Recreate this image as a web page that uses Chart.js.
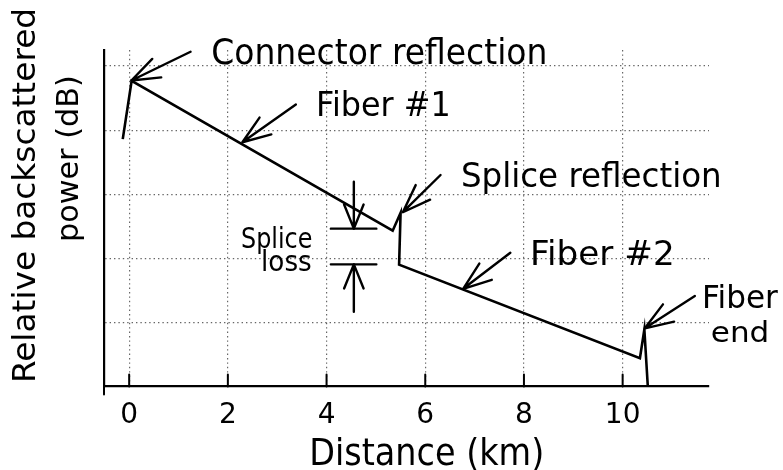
<!DOCTYPE html>
<html>
<head>
<meta charset="utf-8">
<script src="https://cdn.jsdelivr.net/npm/chart.js@4/dist/chart.umd.min.js"></script>
<style>
  html, body { margin: 0; padding: 0; background: #fff; }
  #wrap { width: 783px; height: 470px; }
</style>
</head>
<body>
<div id="wrap"><canvas id="otdr" width="783" height="470"></canvas></div>
<script>
// OTDR trace: distance along the link (km) and relative backscattered power (dB, arbitrary offset)
const distanceKm    = [-0.13, 0.05, 5.34, 5.50, 5.47, 10.35, 10.44, 10.51];
const backscatterDb = [ 3.86, 4.77, 2.43, 2.71, 1.90,  0.44,  0.89,  0.00];

// Axis ticks and grid levels
const distanceTicks   = [0, 2, 4, 6, 8, 10];
const powerGridLevels = [1, 2, 3, 4, 5];
const distanceRange   = [-0.51, 11.75];
const powerRange      = [0, 5.25];

// Callout arrows: tail -> head, in data units
const calloutArrows = [
  { from: [1.244, 5.223], to: [0.045, 4.774] },   // connector reflection
  { from: [3.378, 4.399], to: [2.294, 3.811] },   // fiber #1
  { from: [6.310, 3.300], to: [5.546, 2.719] },   // splice reflection
  { from: [7.724, 2.087], to: [6.768, 1.524] },   // fiber #2
  { from: [11.463, 1.412], to: [10.450, 0.908] }  // fiber end
];

// Splice-loss marker: two bars at the levels either side of the splice
const spliceLoss = { x: 4.553, barFrom: 4.087, barTo: 5.009, upper: 2.463, lower: 1.906, upperTail: 3.195, lowerTail: 1.167 };

// Callout texts: left edge / baseline in data units, cap height and ink width in px
const calloutTexts = [
  { text: 'Connector reflection', at: [1.700, 5.031], cap: 26, width: 332 },
  { text: 'Fiber #1',             at: [3.844, 4.220], cap: 24, width: 129 },
  { text: 'Splice reflection',    at: [6.762, 3.112], cap: 24, width: 257 },
  { text: 'Fiber #2',             at: [8.181, 1.895], cap: 25, width: 139 },
  { text: 'Fiber',                at: [11.666, 1.225], cap: 23, width: 73 },
  { text: 'end',                  at: [11.808, 0.694], cap: 21, width: 55 },
  { text: 'Splice',               at: [2.283, 2.161], cap: 21, width: 70 },
  { text: 'loss',                 at: [2.709, 1.802], cap: 21, width: 48 }
];

const FONT = '"DejaVu Sans", "Liberation Sans", sans-serif';
const INK = '#000';

function fittedText(ctx, text, x, baseline, cap, width, vertical) {
  const size = cap / 0.729;
  ctx.save();
  ctx.font = size + 'px ' + FONT;
  ctx.textAlign = 'left';
  ctx.textBaseline = 'alphabetic';
  const m = ctx.measureText(text);
  const ink = m.actualBoundingBoxLeft + m.actualBoundingBoxRight;
  const sx = width / ink;
  ctx.translate(x, baseline);
  if (vertical) ctx.rotate(-Math.PI / 2);
  ctx.scale(sx, 1);
  ctx.fillStyle = INK;
  ctx.fillText(text, m.actualBoundingBoxLeft, 0);
  ctx.restore();
}

function arrow(ctx, x1, y1, x2, y2, barb, spread) {
  const a = Math.atan2(y1 - y2, x1 - x2);
  ctx.beginPath();
  ctx.moveTo(x1, y1);
  ctx.lineTo(x2, y2);
  ctx.moveTo(x2 + barb * Math.cos(a - spread), y2 + barb * Math.sin(a - spread));
  ctx.lineTo(x2, y2);
  ctx.lineTo(x2 + barb * Math.cos(a + spread), y2 + barb * Math.sin(a + spread));
  ctx.stroke();
}

const calloutPlugin = {
  id: 'callouts',
  afterDatasetsDraw(chart) {
    const { ctx, chartArea } = chart;
    const xs = chart.scales.x, ys = chart.scales.y;
    const px = v => xs.getPixelForValue(v);
    const py = v => ys.getPixelForValue(v);

    ctx.save();
    ctx.strokeStyle = INK;
    ctx.lineCap = 'round';
    ctx.lineJoin = 'round';

    // inward tick marks on the distance axis
    ctx.lineWidth = 2;
    ctx.beginPath();
    distanceTicks.forEach(v => {
      ctx.moveTo(px(v), chartArea.bottom);
      ctx.lineTo(px(v), chartArea.bottom - 12);
    });
    // small overhang of the power axis below the corner
    ctx.moveTo(chartArea.left, chartArea.bottom);
    ctx.lineTo(chartArea.left, chartArea.bottom + 8);
    ctx.stroke();

    // callout arrows
    ctx.lineWidth = 2.4;
    calloutArrows.forEach(a => {
      arrow(ctx, px(a.from[0]), py(a.from[1]), px(a.to[0]), py(a.to[1]), 30, 20 * Math.PI / 180);
    });

    // splice loss bars and arrows
    const sx = px(spliceLoss.x);
    ctx.beginPath();
    ctx.moveTo(px(spliceLoss.barFrom), py(spliceLoss.upper));
    ctx.lineTo(px(spliceLoss.barTo), py(spliceLoss.upper));
    ctx.moveTo(px(spliceLoss.barFrom), py(spliceLoss.lower));
    ctx.lineTo(px(spliceLoss.barTo), py(spliceLoss.lower));
    ctx.stroke();
    arrow(ctx, sx, py(spliceLoss.upperTail), sx, py(spliceLoss.upper), 26, 22 * Math.PI / 180);
    arrow(ctx, sx, py(spliceLoss.lowerTail), sx, py(spliceLoss.lower), 26, 22 * Math.PI / 180);
    ctx.restore();

    // callout labels
    calloutTexts.forEach(t => {
      fittedText(ctx, t.text, px(t.at[0]), py(t.at[1]), t.cap, t.width, false);
    });

    // axis titles
    fittedText(ctx, 'Distance (km)', 312, 465, 27, 230, false);
    fittedText(ctx, 'Relative backscattered', 35, 380, 23, 370, true);
    fittedText(ctx, 'power (dB)', 77.5, 240, 22, 163, true);
  }
};

const dotted = {
  grid: { color: 'rgba(0,0,0,0.6)', lineWidth: 1.2, drawTicks: false },
  border: { display: true, color: INK, width: 2.2, dash: [1.4, 3] }
};

new Chart(document.getElementById('otdr'), {
  type: 'scatter',
  data: {
    datasets: [{
      data: distanceKm.map((x, i) => ({ x: x, y: backscatterDb[i] })),
      showLine: true,
      borderColor: INK,
      borderWidth: 2.6,
      pointRadius: 0,
      tension: 0,
      fill: false
    }]
  },
  options: {
    responsive: false,
    animation: false,
    devicePixelRatio: 1,
    layout: { padding: { left: 104, top: 50, right: 74, bottom: 0 } },
    plugins: { legend: { display: false }, tooltip: { enabled: false } },
    scales: {
      x: {
        type: 'linear',
        min: distanceRange[0],
        max: distanceRange[1],
        afterBuildTicks: s => { s.ticks = distanceTicks.map(v => ({ value: v })); },
        afterFit: s => { s.height = 83.5; },
        grid: dotted.grid,
        border: dotted.border,
        ticks: {
          color: INK,
          font: { family: FONT, size: 28 },
          padding: 12,
          maxRotation: 0,
          autoSkip: false,
          callback: v => String(v)
        }
      },
      y: {
        type: 'linear',
        min: powerRange[0],
        max: powerRange[1],
        afterBuildTicks: s => { s.ticks = powerGridLevels.map(v => ({ value: v })); },
        afterFit: s => { s.width = 0; },
        grid: dotted.grid,
        border: dotted.border,
        ticks: { display: false }
      }
    }
  },
  plugins: [calloutPlugin]
});
</script>
</body>
</html>
